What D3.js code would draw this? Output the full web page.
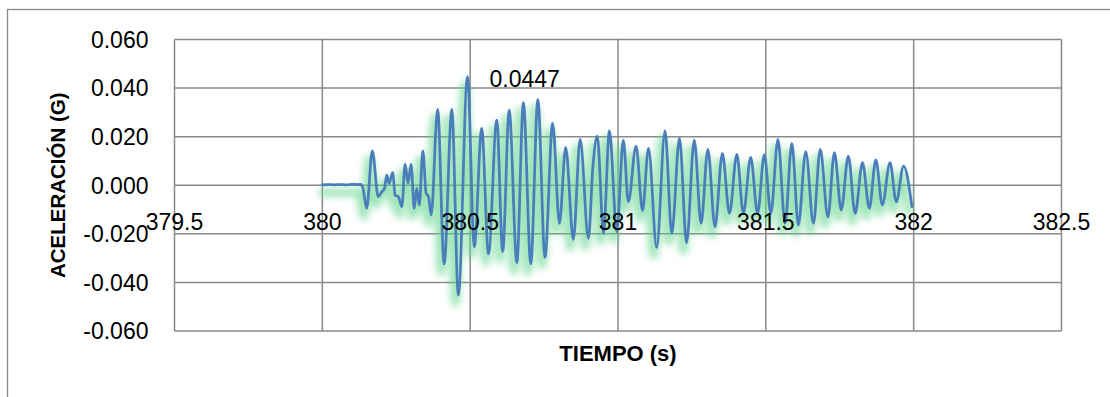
<!DOCTYPE html>
<html>
<head>
<meta charset="utf-8">
<script src="https://cdn.jsdelivr.net/npm/d3@7"></script>
<style>
  html, body { margin: 0; padding: 0; background: #ffffff; }
  svg { display: block; }
  text { font-family: "Liberation Sans", Arial, sans-serif; fill: #000; }
</style>
</head>
<body>
<svg id="chart" width="1110" height="397"></svg>
<script>
// ---- data ----
const timeS = [
  380.000, 380.020, 380.040, 380.060, 380.080, 380.100, 380.120, 380.130, 380.137,
  380.150, 380.169, 380.189, 380.201, 380.210, 380.218, 380.226, 380.238, 380.246,
  380.257, 380.269, 380.280, 380.290, 380.300, 380.311, 380.319, 380.328, 380.340,
  380.351, 380.359, 380.368, 380.390, 380.412, 380.438, 380.460, 380.491, 380.514,
  380.539, 380.562, 380.590, 380.610, 380.632, 380.658, 380.680, 380.705, 380.729,
  380.753, 380.779, 380.802, 380.823, 380.849, 380.872, 380.900, 380.915, 380.930,
  380.951, 380.971, 380.996, 381.018, 381.035, 381.061, 381.083, 381.103, 381.131,
  381.159, 381.182, 381.208, 381.232, 381.258, 381.281, 381.304, 381.328, 381.353,
  381.377, 381.402, 381.424, 381.449, 381.472, 381.495, 381.517, 381.541, 381.565,
  381.588, 381.610, 381.635, 381.661, 381.684, 381.710, 381.732, 381.755, 381.779,
  381.802, 381.827, 381.850, 381.872, 381.894, 381.920, 381.941, 381.966, 381.994
];
const accelG = [
  0.0002, 0.0003, 0.0002, 0.0003, 0.0002, 0.0004, 0.0003, 0.0004, -0.0010,
  -0.0095, 0.0142, -0.0047, -0.0027, -0.0013, 0.0042, 0.0008, 0.0052, -0.0040,
  -0.0047, -0.0088, 0.0087, 0.0008, 0.0087, -0.0095, -0.0013, -0.0081, 0.0142,
  -0.0033, -0.0047, -0.0123, 0.0312, -0.0324, 0.0312, -0.0452, 0.0447, -0.0253,
  0.0234, -0.0283, 0.0268, -0.0273, 0.0309, -0.0319, 0.0340, -0.0324, 0.0353,
  -0.0297, 0.0255, -0.0157, 0.0156, -0.0223, 0.0189, -0.0219, 0.0076, 0.0202,
  -0.0198, 0.0224, -0.0191, 0.0186, -0.0068, 0.0161, -0.0105, 0.0152, -0.0256,
  0.0224, -0.0198, 0.0193, -0.0237, 0.0186, -0.0157, 0.0148, -0.0171, 0.0131,
  -0.0116, 0.0127, -0.0116, 0.0115, -0.0116, 0.0126, -0.0115, 0.0189, -0.0157,
  0.0172, -0.0164, 0.0138, -0.0157, 0.0148, -0.0130, 0.0134, -0.0102, 0.0120,
  -0.0116, 0.0093, -0.0095, 0.0104, -0.0081, 0.0093, -0.0068, 0.0079, -0.0088
];
const xTicks = [379.5, 380, 380.5, 381, 381.5, 382, 382.5];
const xTickLabels = ["379.5", "380", "380.5", "381", "381.5", "382", "382.5"];
const yTicks = [-0.06, -0.04, -0.02, 0, 0.02, 0.04, 0.06];
const yTickLabels = ["-0.060", "-0.040", "-0.020", "0.000", "0.020", "0.040", "0.060"];
const peakLabel = "0.0447";
const xTitle = "TIEMPO (s)";
const yTitle = "ACELERACIÓN (G)";

// ---- layout ----
const svg = d3.select("#chart");
const plot = { left: 174.5, right: 1061.5, top: 39.5, bottom: 331 };
const gridColor = "#898989";

const x = d3.scaleLinear().domain([379.5, 382.5]).range([plot.left, plot.right]);
const y = d3.scaleLinear().domain([-0.06, 0.06]).range([plot.bottom, plot.top]);

// outer chart border
svg.append("rect")
  .attr("x", 7.5).attr("y", 9.5)
  .attr("width", 1120).attr("height", 420)
  .attr("fill", "none").attr("stroke", gridColor).attr("stroke-width", 1.3);

// gridlines
const grid = svg.append("g");
grid.selectAll("line.h").data(yTicks).join("line")
  .attr("x1", plot.left).attr("x2", plot.right)
  .attr("y1", d => y(d)).attr("y2", d => y(d))
  .attr("stroke", gridColor).attr("stroke-width", 1.5);
grid.selectAll("line.v").data(xTicks).join("line")
  .attr("y1", plot.top).attr("y2", plot.bottom)
  .attr("x1", d => x(d)).attr("x2", d => x(d))
  .attr("stroke", gridColor).attr("stroke-width", 1.5);

// glow filter
const defs = svg.append("defs");
const f = defs.append("filter").attr("id", "glow")
  .attr("x", "-10%").attr("y", "-30%").attr("width", "120%").attr("height", "160%");
f.append("feGaussianBlur").attr("stdDeviation", 3.6);

const data = timeS.map((t, i) => ({ t, v: accelG[i] }));
const line = d3.line().x(d => x(d.t)).y(d => y(d.v)).curve(d3.curveMonotoneX);

svg.append("path")
  .datum(data)
  .attr("d", line)
  .attr("transform", "translate(-3,8)")
  .attr("fill", "none")
  .attr("stroke", "#5cd488")
  .attr("stroke-width", 8)
  .attr("stroke-opacity", 0.6)
  .attr("filter", "url(#glow)");

svg.append("path")
  .datum(data)
  .attr("d", line)
  .attr("fill", "none")
  .attr("stroke", "#4a7ebb")
  .attr("stroke-width", 2.75)
  .attr("stroke-linejoin", "round")
  .attr("stroke-linecap", "round");

// y tick labels
svg.append("g").selectAll("text").data(yTicks).join("text")
  .attr("x", 148.5)
  .attr("y", d => y(d))
  .attr("dy", "0.36em")
  .attr("text-anchor", "end")
  .style("font-size", "23px")
  .text((d, i) => yTickLabels[i]);

// x tick labels (axis crosses at 0)
svg.append("g").selectAll("text").data(xTicks).join("text")
  .attr("x", d => x(d))
  .attr("y", y(0) + 36)
  .attr("dy", "0.36em")
  .attr("text-anchor", "middle")
  .style("font-size", "23px")
  .text((d, i) => xTickLabels[i]);

// data label at max
const maxPt = data.reduce((a, b) => (b.v > a.v ? b : a));
svg.append("text")
  .attr("x", x(maxPt.t) + 22)
  .attr("y", y(maxPt.v) + 2)
  .attr("dy", "0.36em")
  .style("font-size", "23px")
  .text(peakLabel);

// axis titles
svg.append("text")
  .attr("x", (plot.left + plot.right) / 2)
  .attr("y", 353)
  .attr("dy", "0.36em")
  .attr("text-anchor", "middle")
  .style("font-size", "22px").style("font-weight", "bold")
  .text(xTitle);

svg.append("text")
  .attr("transform", `translate(58,${(plot.top + plot.bottom) / 2}) rotate(-90)`)
  .attr("dy", "0.36em")
  .attr("text-anchor", "middle")
  .style("font-size", "20.5px").style("font-weight", "bold")
  .text(yTitle);
</script>
</body>
</html>
